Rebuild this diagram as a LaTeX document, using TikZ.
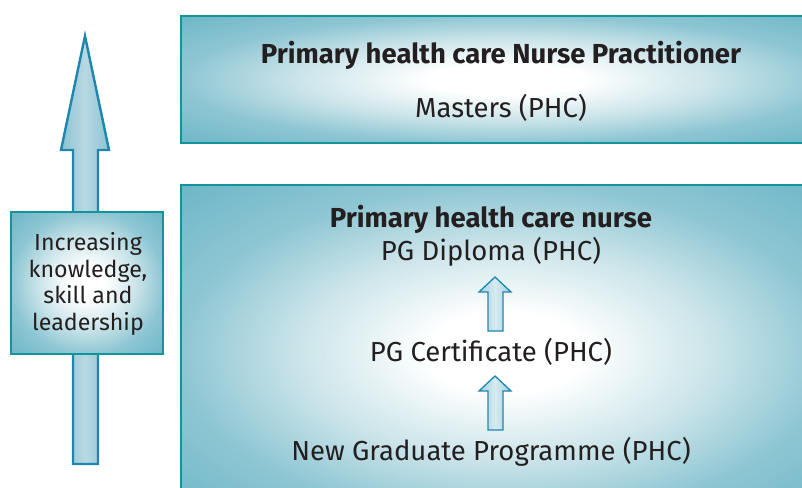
\documentclass[tikz,border=0pt]{standalone}
\usepackage{fontspec}
\setmainfont{Fira Sans}
\usetikzlibrary{calc}
\definecolor{tealborder}{HTML}{13939B}
\definecolor{arrowline}{HTML}{1E86AF}
\definecolor{txt}{HTML}{231F20}
\definecolor{shA}{HTML}{CBE4E9}
\definecolor{shB}{HTML}{8EC6D3}
\definecolor{shC}{HTML}{6FB7C8}
\definecolor{arL}{HTML}{8CC2D2}
\definecolor{arM}{HTML}{B8D9E2}
\definecolor{saL}{HTML}{A3D0DC}
\definecolor{saM}{HTML}{D5EBF0}
\pgfdeclareradialshading{boxshade}{\pgfpointorigin}{color(0bp)=(white); color(6bp)=(white); color(16bp)=(shA); color(25bp)=(shB); color(35bp)=(shC); color(50bp)=(shC)}
\tikzset{
  panel/.style={draw=tealborder, line width=2.6pt, shading=boxshade},
  bigarrow/.style={draw=arrowline, line width=2.4pt, left color=arL, right color=arL, middle color=arM, line join=miter},
  smallarrow/.style={draw=arrowline, line width=1.3pt, left color=saL, right color=saL, middle color=saM, line join=miter},
  maintxt/.style={text=txt, font=\fontsize{27.5}{32}\selectfont, inner sep=0pt},
  boldtxt/.style={maintxt, font=\fontsize{27.5}{32}\selectfont\bfseries},
  sidetxt/.style={text=txt, font=\fontsize{23.2}{26.7}\selectfont, align=center, inner sep=0pt}
}
\begin{document}
\begin{tikzpicture}[x=1pt,y=-1pt]
\useasboundingbox (0,0) rectangle (802,487);
\clip (0,0) rectangle (802,487);
% panels
\path[panel] (181,16) rectangle (830,143);
\path[panel] (181,185) rectangle (830,520);
% big arrow
\path[bigarrow] (73,464) -- (73,150) -- (61,150) -- (85,36) -- (109,150) -- (98,150) -- (98,464) -- cycle;
% left box
\path[panel] (11,212) rectangle (163,354);
\node[sidetxt] (side) at (88,284) {Increasing\\knowledge,\\skill and\\leadership};
% texts
\node[boldtxt] (np) at (501,55) {Primary health care Nurse Practitioner};
\node[maintxt] (ms) at (501,108) {Masters (PHC)};
\node[boldtxt] (pn) at (491,219) {Primary health care nurse};
\node[maintxt] (pgd) at (491,252) {PG Diploma (PHC)};
\node[maintxt] (pgc) at (491,352) {PG Certificate (PHC)};
\node[maintxt] (ngp) at (491,452) {New Graduate Programme (PHC)};
% small arrows
\path[smallarrow] (488,331) -- (488,292) -- (479,292) -- (495,277) -- (511,292) -- (503,292) -- (503,331) -- cycle;
\path[smallarrow] (488,430) -- (488,391) -- (479,391) -- (495,376) -- (511,391) -- (503,391) -- (503,430) -- cycle;
\end{tikzpicture}
\end{document}
